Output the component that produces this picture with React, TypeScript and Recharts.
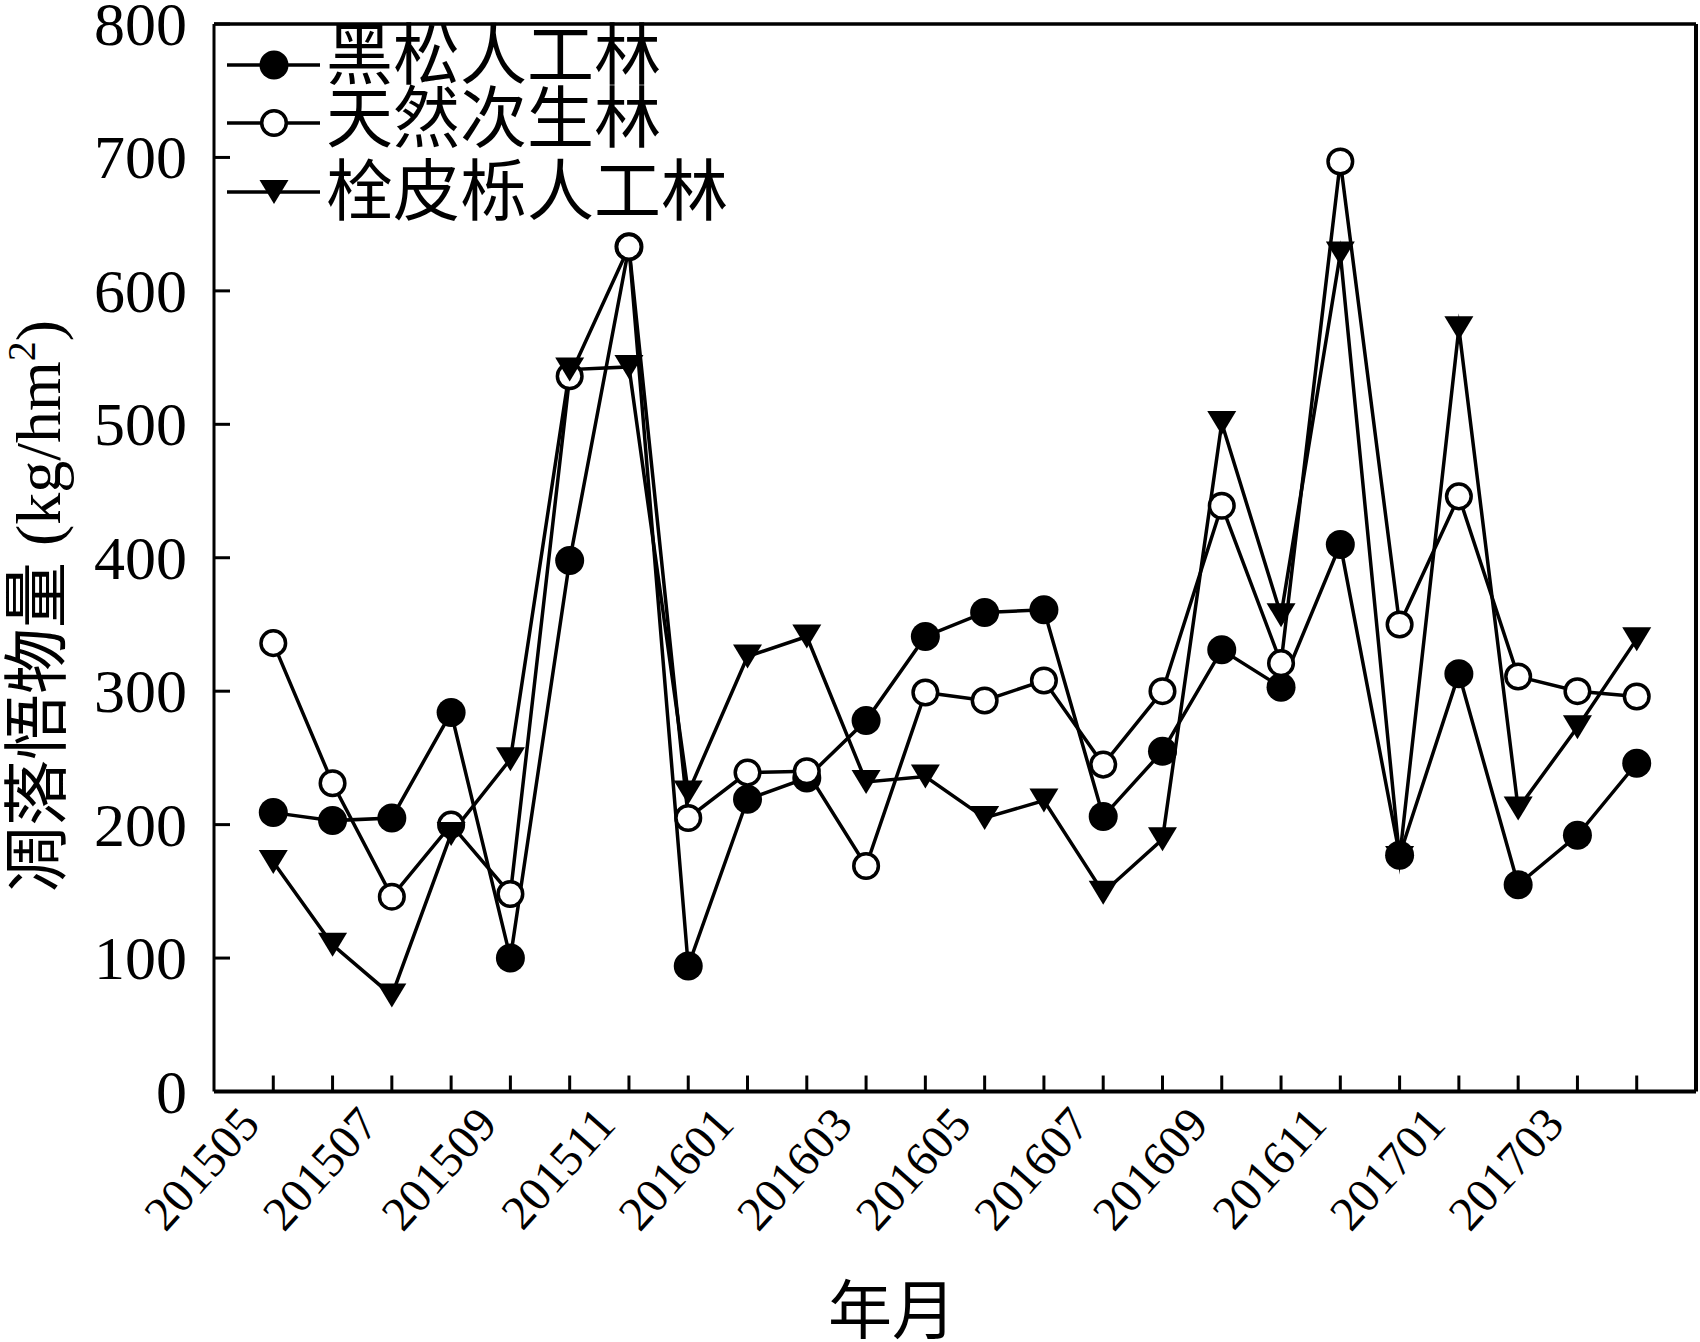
import React from 'react';
import { LineChart, Line, XAxis, YAxis, ReferenceLine, Legend } from 'recharts';

const months = [
  '201505', '201506', '201507', '201508', '201509', '201510', '201511', '201512',
  '201601', '201602', '201603', '201604', '201605', '201606', '201607', '201608',
  '201609', '201610', '201611', '201612', '201701', '201702', '201703', '201704',
];

// 黑松人工林
const blackPine = [209, 203, 205, 284, 100, 398, 633, 94, 219, 235, 278, 341, 359, 361, 206, 255, 331, 303, 410, 177, 313, 155, 192, 246];
// 天然次生林
const naturalForest = [336, 231, 146, 200, 148, 536, 633, 205, 239, 240, 169, 299, 293, 308, 245, 300, 439, 321, 697, 350, 446, 311, 300, 296];
// 栓皮栎人工林
const oakForest = [172, 110, 72, 193, 249, 541, 543, 224, 326, 341, 232, 236, 205, 218, 149, 189, 501, 357, 628, 175, 572, 212, 273, 339];

const yTicks = [0, 100, 200, 300, 400, 500, 600, 700, 800];
const xTickIdx = months.map((_, i) => i);

const seriesNames = ['黑松人工林', '天然次生林', '栓皮栎人工林'];
const seriesKeys = ['blackPine', 'naturalForest', 'oakForest'];
const seriesMarkers = ['filled', 'open', 'tri'];

const data = months.map((m, i) => ({
  idx: i,
  month: m,
  blackPine: blackPine[i],
  naturalForest: naturalForest[i],
  oakForest: oakForest[i],
}));

const LATIN = '"Liberation Serif", "Times New Roman", serif';
const CJK = '"Noto Sans CJK SC", "Liberation Serif", sans-serif';

function Marker({ type, cx, cy }: { type: string; cx: number; cy: number }) {
  if (cx == null || cy == null) return null;
  if (type === 'filled') return <circle cx={cx} cy={cy} r={14.5} fill="#000" />;
  if (type === 'open')
    return <circle cx={cx} cy={cy} r={12.3} fill="#fff" stroke="#000" strokeWidth={3.5} />;
  return (
    <path
      d={`M${cx - 14.5},${cy - 12}L${cx + 14.5},${cy - 12}L${cx},${cy + 12}Z`}
      fill="#000"
    />
  );
}

const XTick = (props: any) => {
  const { x, y, payload } = props;
  const i = payload.value;
  const lx = x - 11.4;
  const ly = y + 34.5;
  return (
    <g>
      <line x1={x} x2={x} y1={y} y2={y - 16} stroke="#000" strokeWidth={3} />
      {i % 2 === 0 && (
        <text
          x={lx}
          y={ly}
          textAnchor="end"
          transform={`rotate(-48, ${lx}, ${ly})`}
          fontFamily={LATIN}
          fontSize={48}
          fill="#000"
        >
          {months[i]}
        </text>
      )}
    </g>
  );
};

const YTick = (props: any) => {
  const { x, y, payload } = props;
  return (
    <g>
      <line x1={x} x2={x + 16} y1={y} y2={y} stroke="#000" strokeWidth={3} />
      <text
        x={x - 27}
        y={y}
        textAnchor="end"
        dominantBaseline="central"
        fontFamily={LATIN}
        fontSize={62}
        fill="#000"
      >
        {payload.value}
      </text>
    </g>
  );
};

const YLabel = () => (
  <text transform="translate(60,606) rotate(-90)" textAnchor="middle" fill="#000">
    <tspan fontFamily={CJK} fontSize={66}>凋落悟物量</tspan>
    <tspan fontFamily={LATIN} fontSize={64}> (kg/hm</tspan>
    <tspan fontFamily={LATIN} fontSize={40} dy={-25}>2</tspan>
    <tspan fontFamily={LATIN} fontSize={64} dy={25}>)</tspan>
  </text>
);

const XLabel = () => (
  <text x={892} y={1333} textAnchor="middle" fontFamily={CJK} fontSize={64} fill="#000">
    年月
  </text>
);

const legendRowsY = [65, 123, 192];
const legendTextY = [79, 142, 215];

const renderLegend = () => (
  <svg width={800} height={240} style={{ display: 'block' }}>
    {seriesNames.map((name, k) => (
      <g key={name}>
        <line x1={227} x2={320} y1={legendRowsY[k]} y2={legendRowsY[k]} stroke="#000" strokeWidth={3.5} />
        <Marker type={seriesMarkers[k]} cx={274} cy={legendRowsY[k]} />
        <text x={326} y={legendTextY[k]} fontFamily={CJK} fontSize={67} fill="#000">
          {name}
        </text>
      </g>
    ))}
  </svg>
);

export default function App() {
  return (
    <div style={{ position: 'absolute', left: 0, top: 0, width: 1700, height: 1342, background: '#fff' }}>
      <LineChart
        width={1700}
        height={1342}
        data={data}
        margin={{ top: 24, right: 4, bottom: 0, left: 0 }}
        style={{ fontFamily: LATIN }}
      >
        <XAxis
          dataKey="idx"
          type="number"
          domain={[-1, 24]}
          ticks={xTickIdx}
          interval={0}
          allowDataOverflow
          tick={<XTick />}
          tickLine={false}
          tickSize={0}
          tickMargin={0}
          axisLine={{ stroke: '#000', strokeWidth: 4 }}
          height={250.5}
          label={<XLabel />}
        />
        <YAxis
          type="number"
          domain={[0, 800]}
          ticks={yTicks}
          interval={0}
          allowDataOverflow
          tick={<YTick />}
          tickLine={false}
          tickSize={0}
          tickMargin={0}
          axisLine={{ stroke: '#000', strokeWidth: 3 }}
          width={214}
          label={<YLabel />}
        />
        <ReferenceLine y={800} stroke="#000" strokeWidth={3.5} ifOverflow="visible" />
        <ReferenceLine x={24} stroke="#000" strokeWidth={4} ifOverflow="visible" />
        {seriesKeys.map((key, k) => (
          <Line
            key={key}
            dataKey={key}
            name={seriesNames[k]}
            type="linear"
            stroke="#000"
            strokeWidth={3.5}
            strokeLinejoin="miter"
            strokeMiterlimit={10}
            isAnimationActive={false}
            activeDot={false}
            dot={(p: any) => (
              <Marker key={`${key}-${p.index}`} type={seriesMarkers[k]} cx={p.cx} cy={p.cy} />
            )}
          />
        ))}
        <Legend
          content={renderLegend}
          layout="vertical"
          align="center"
          verticalAlign="middle"
          wrapperStyle={{ left: 0, top: 0, width: 800, height: 240 }}
        />
      </LineChart>
    </div>
  );
}
